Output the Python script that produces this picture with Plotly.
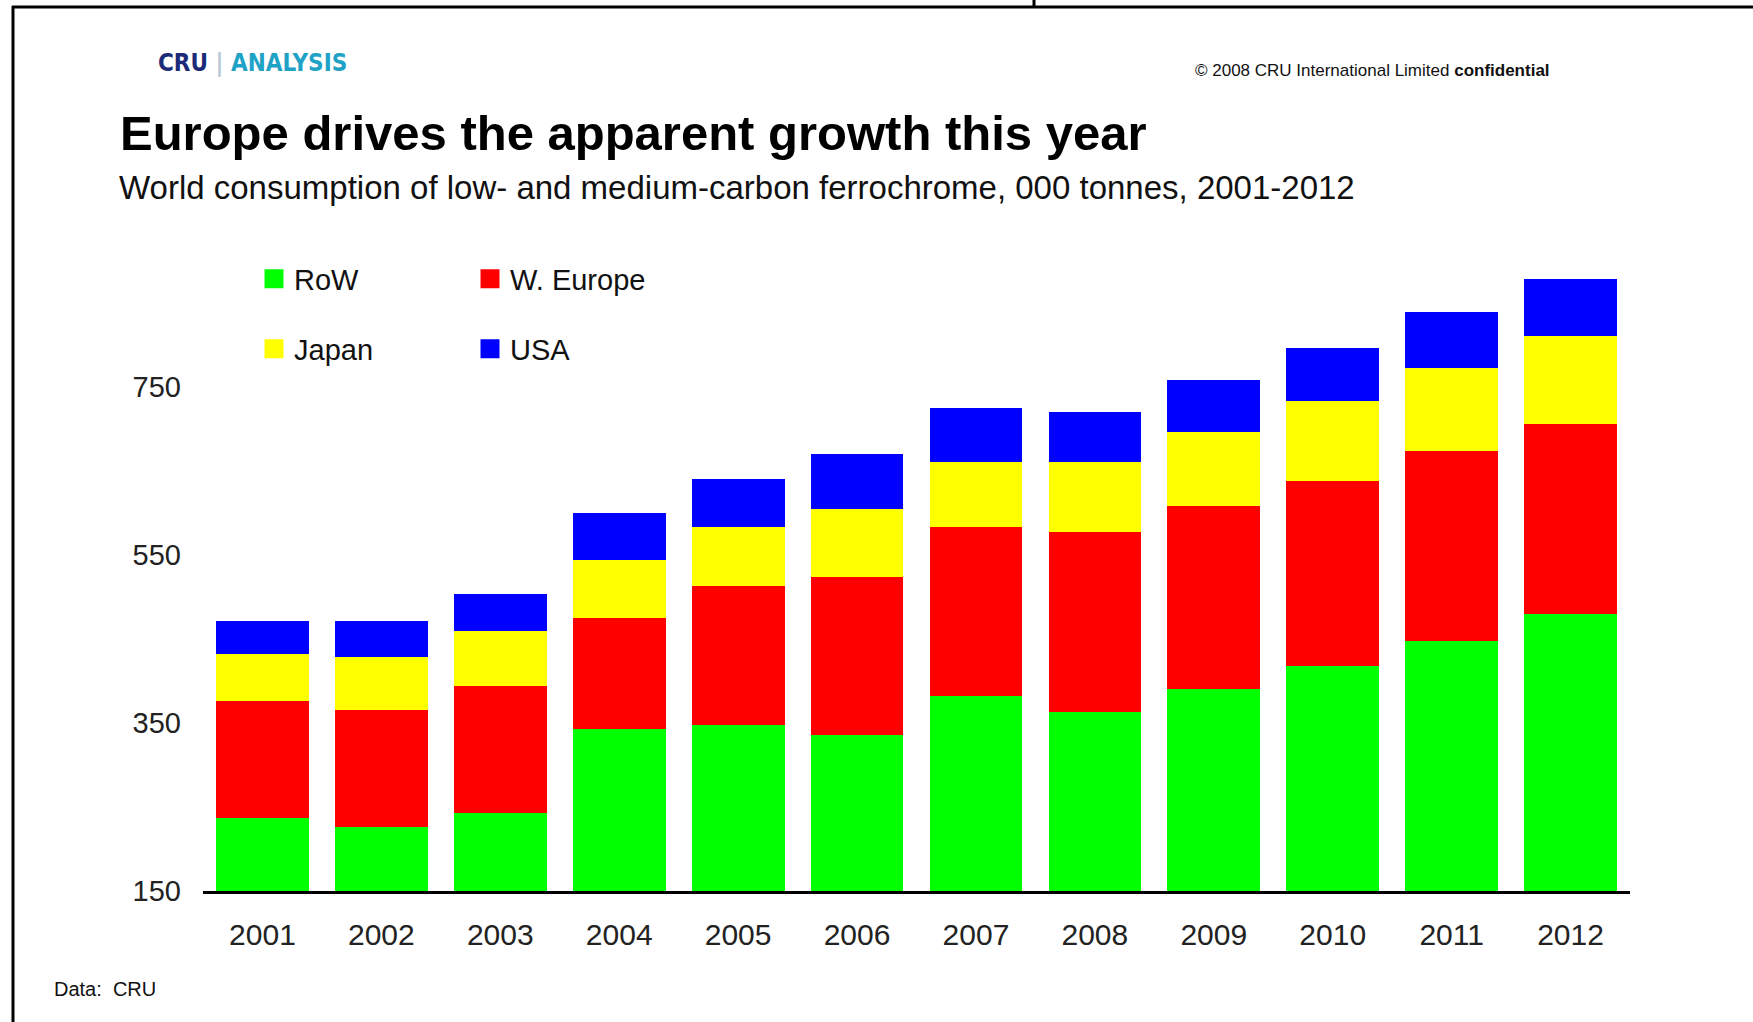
import plotly.graph_objects as go

# ---- data (000 tonnes) ----
years = ["2001", "2002", "2003", "2004", "2005", "2006",
         "2007", "2008", "2009", "2010", "2011", "2012"]
row_vals = [237, 226, 243, 343, 348, 336, 382, 363, 390, 418, 448, 480]
weurope_vals = [139, 140, 151, 132, 165, 188, 201, 214, 218, 220, 226, 226]
japan_vals = [56, 63, 66, 69, 70, 81, 78, 84, 89, 95, 99, 105]
usa_vals = [40, 43, 43, 56, 58, 65, 64, 59, 61, 64, 66, 67]
series_names = ["RoW", "W. Europe", "Japan", "USA"]
y_ticks = [150, 350, 550, 750]

colors = {"RoW": "#00FF00", "W. Europe": "#FF0000", "Japan": "#FFFF00", "USA": "#0000FF"}
series = {"RoW": row_vals, "W. Europe": weurope_vals, "Japan": japan_vals, "USA": usa_vals}

W, H = 1753, 1022
L, R, T, B = 203, 1630, 261, 891  # plot area in pixels
FONT = "Liberation Sans, Arial, sans-serif"


def px(x):
    return (x - L) / (R - L)


def py(y):
    return (B - y) / (B - T)


fig = go.Figure()
for name in series_names:
    fig.add_trace(go.Bar(x=years, y=series[name], name=name,
                         marker=dict(color=colors[name], line=dict(width=0)),
                         showlegend=False))

# legend entries (two rows of two)
for name, lg in [("RoW", "legend"), ("W. Europe", "legend"), ("Japan", "legend2"), ("USA", "legend2")]:
    fig.add_trace(go.Scatter(x=[None], y=[None], mode="markers", name=name,
                             marker=dict(symbol="square", size=16, color=colors[name],
                                         line=dict(width=3, color=colors[name])),
                             legend=lg, showlegend=True))

leg_common = dict(orientation="h", font=dict(family=FONT, size=29, color="#111"),
                  bgcolor="rgba(0,0,0,0)", entrywidth=171, entrywidthmode="pixels",
                  xanchor="left", yanchor="middle", itemclick=False, traceorder="normal")
fig.update_layout(
    legend=dict(x=px(254), y=py(279), **leg_common),
    legend2=dict(x=px(254), y=py(349), **leg_common),
)

fig.update_layout(
    width=W, height=H,
    margin=dict(l=L, r=W - R, t=T, b=H - B, pad=0),
    paper_bgcolor="white", plot_bgcolor="white",
    barmode="stack", bargap=0.22,
    font=dict(family=FONT, color="#111"),
    xaxis=dict(showline=True, linecolor="black", linewidth=3, ticks="",
               showgrid=False, zeroline=False,
               tickfont=dict(family=FONT, size=30, color="#222"),
               ticklabelstandoff=15, fixedrange=True),
    yaxis=dict(showline=False, showgrid=False, zeroline=False, ticks="",
               range=[150, 900], tickvals=y_ticks,
               tickfont=dict(family=FONT, size=29, color="#222"),
               ticklabelstandoff=21, fixedrange=True),
)

annotations = [
    dict(text="<b>Europe drives the apparent growth this year</b>", x=px(118), y=py(133),
         xanchor="left", yanchor="middle", font=dict(family=FONT, size=49, color="#000")),
    dict(text="World consumption of low- and medium-carbon ferrochrome, 000 tonnes, 2001-2012",
         x=px(117), y=py(187), xanchor="left", yanchor="middle",
         font=dict(family=FONT, size=33, color="#111")),
    dict(text="<b><span style='color:#1c2a78'>CRU</span> <span style='color:#b8c8d4'>|</span> "
              "<span style='color:#1ea2c6'>ANALYSIS</span></b>",
         x=px(156), y=py(63), xanchor="left", yanchor="middle",
         font=dict(family="DejaVu Sans Condensed, Liberation Sans Narrow, sans-serif", size=24)),
    dict(text="© 2008 CRU International Limited <b>confidential</b>", x=px(1193), y=py(71),
         xanchor="left", yanchor="middle", font=dict(family=FONT, size=17, color="#111")),
    dict(text="Data:  CRU", x=px(52), y=py(989), xanchor="left", yanchor="middle",
         font=dict(family=FONT, size=20, color="#111")),
]
for a in annotations:
    a.update(xref="paper", yref="paper", showarrow=False)
fig.update_layout(annotations=annotations)

line = dict(color="black", width=3)
fig.update_layout(shapes=[
    dict(type="line", xref="paper", yref="paper", x0=px(12), x1=px(W), y0=py(7), y1=py(7), line=line),
    dict(type="line", xref="paper", yref="paper", x0=px(13), x1=px(13), y0=py(6), y1=py(H), line=line),
    dict(type="line", xref="paper", yref="paper", x0=px(1034), x1=px(1034), y0=py(0), y1=py(7), line=line),
])

fig.write_html("out.html")
